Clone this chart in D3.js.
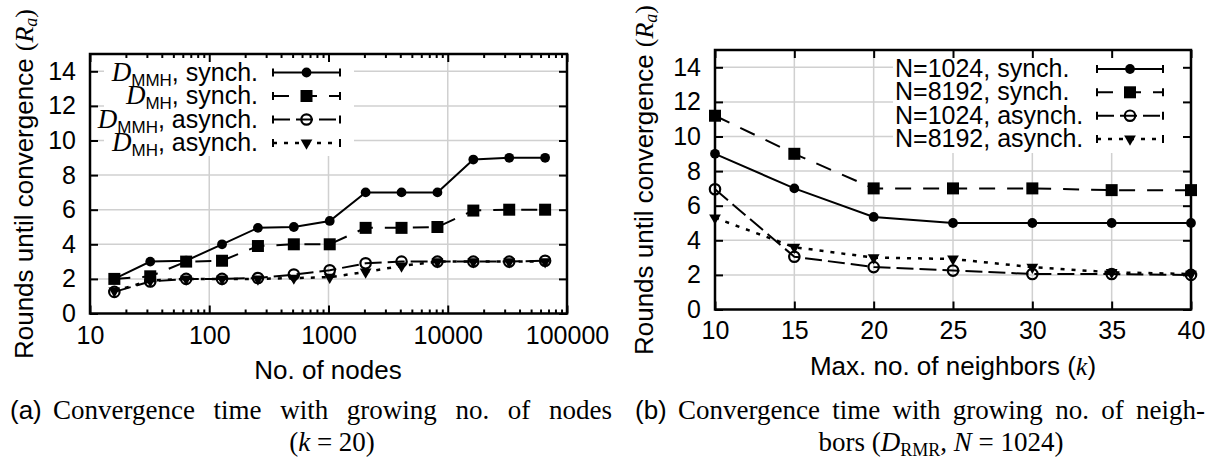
<!DOCTYPE html>
<html>
<head>
<meta charset="utf-8">
<script src="https://cdn.jsdelivr.net/npm/d3@7"></script>
<style>
	body { margin: 0; background: #fff; }
	svg { display: block; }
</style>
</head>
<body>
<script>
// ---- (a) rounds until convergence vs. no. of nodes (k = 20)
const nodes = [16, 32, 64, 128, 256, 512, 1024, 2048, 4096, 8192, 16384, 32768, 65536];
const mmhSynch = [2.0, 3.0, 3.05, 4.0, 4.95, 5.0, 5.35, 7.0, 7.0, 7.0, 8.9, 9.0, 9.0];
const mhSynch = [2.0, 2.15, 3.0, 3.05, 3.9, 4.0, 4.0, 4.95, 4.95, 5.0, 5.95, 6.0, 6.0];
const mmhAsynch = [1.25, 1.85, 2.0, 2.0, 2.05, 2.25, 2.5, 2.9, 3.0, 3.0, 3.0, 3.0, 3.05];
const mhAsynch = [1.3, 1.9, 2.0, 2.0, 2.0, 2.05, 2.1, 2.4, 2.75, 3.0, 3.0, 3.0, 3.0];
const legendSubA = ['MMH', 'MH', 'MMH', 'MH'];
const legendModeA = ['synch.', 'synch.', 'asynch.', 'asynch.'];
const xTicksA = [10, 100, 1000, 10000, 100000];

// ---- (b) rounds until convergence vs. max. no. of neighbors
const neighbors = [10, 15, 20, 25, 30, 35, 40];
const n1024Synch = [9.0, 7.0, 5.35, 5.0, 5.0, 5.0, 5.0];
const n8192Synch = [11.2, 9.0, 7.0, 7.0, 7.0, 6.9, 6.9];
const n1024Asynch = [6.95, 3.05, 2.45, 2.25, 2.05, 2.05, 2.0];
const n8192Asynch = [5.3, 3.6, 3.0, 2.92, 2.45, 2.15, 2.05];
const legendB = ['N=1024, synch.', 'N=8192, synch.', 'N=1024, asynch.', 'N=8192, asynch.'];
const xTicksB = [10, 15, 20, 25, 30, 35, 40];

const yTicks = [0, 2, 4, 6, 8, 10, 12, 14];

const SANS = '"Liberation Sans", Arial, sans-serif';
const SERIF = '"Liberation Serif", "DejaVu Serif", serif';

// line style per series (marker + dash pattern), same in both panels
const styles = [
	{ marker: 'circle', dash: null },
	{ marker: 'square', dash: '16,12' },
	{ marker: 'open', dash: '17,6' },
	{ marker: 'tri', dash: '4,7' },
];

const svg = d3.select('body').append('svg').attr('width', 1212).attr('height', 459);

function drawMarker(g, type, cx, cy) {
	const sym = d3.symbol();
	const p = g.append('path').attr('transform', `translate(${cx},${cy})` + (type === 'tri' ? ' rotate(180)' : ''));
	if (type === 'circle') p.attr('d', sym.type(d3.symbolCircle).size(75)()).attr('fill', '#000');
	if (type === 'square') p.attr('d', sym.type(d3.symbolSquare).size(144)()).attr('fill', '#000');
	if (type === 'open') p.attr('d', sym.type(d3.symbolCircle).size(85)()).attr('fill', 'none').attr('stroke', '#000').attr('stroke-width', 2.2);
	if (type === 'tri') p.attr('d', sym.type(d3.symbolTriangle).size(60)()).attr('fill', '#000');
}

function drawPanel(cfg) {
	const g = svg.append('g');
	const x = cfg.x, y = cfg.y;
	const [xl, xr] = x.range();
	const [yb, yt] = y.range();

	// grid
	g.append('g').selectAll('line').data(yTicks.filter(d => d > 0)).join('line')
		.attr('x1', xl).attr('x2', xr).attr('y1', d => y(d)).attr('y2', d => y(d))
		.attr('stroke', '#d0d0d0').attr('stroke-width', 1.5);
	g.append('g').selectAll('line').data(cfg.xTicks.slice(1, -1)).join('line')
		.attr('x1', d => x(d)).attr('x2', d => x(d)).attr('y1', yb).attr('y2', yt)
		.attr('stroke', '#d0d0d0').attr('stroke-width', 1.5);

	// opaque key box
	g.append('rect')
		.attr('x', cfg.keyBox[0]).attr('y', yt + 1)
		.attr('width', cfg.keyBox[1] - cfg.keyBox[0]).attr('height', cfg.keyBox[2] - yt)
		.attr('fill', '#fff');

	// axes (inward ticks, mirrored on top and right)
	g.append('g').attr('transform', `translate(0,${yb})`)
		.call(d3.axisBottom(x).tickValues(cfg.xTicks).tickSize(-8).tickPadding(cfg.xPad).tickFormat(cfg.xFormat));
	g.append('g').attr('transform', `translate(0,${yt})`)
		.call(d3.axisTop(x).tickValues(cfg.xTicks).tickSize(-8).tickFormat(''));
	if (cfg.xMinor) {
		g.append('g').attr('transform', `translate(0,${yb})`)
			.call(d3.axisBottom(x).tickValues(cfg.xMinor).tickSize(-4).tickFormat(''));
		g.append('g').attr('transform', `translate(0,${yt})`)
			.call(d3.axisTop(x).tickValues(cfg.xMinor).tickSize(-4).tickFormat(''));
	}
	g.append('g').attr('transform', `translate(${xl},0)`)
		.call(d3.axisLeft(y).tickValues(yTicks).tickSize(-8).tickPadding(14));
	g.append('g').attr('transform', `translate(${xr},0)`)
		.call(d3.axisRight(y).tickValues(yTicks).tickSize(-8).tickFormat(''));

	g.selectAll('.domain').remove();
	g.selectAll('.tick line').attr('stroke', '#000').attr('stroke-width', 2);
	g.selectAll('.tick text').attr('font-family', SANS).attr('font-size', 25).attr('fill', '#000');

	g.append('rect')
		.attr('x', xl).attr('y', yt).attr('width', xr - xl).attr('height', yb - yt)
		.attr('fill', 'none').attr('stroke', '#000').attr('stroke-width', 2.5);

	// series
	const line = d3.line().x(d => x(d[0])).y(d => y(d[1]));
	cfg.series.forEach((vals, i) => {
		const pts = cfg.xs.map((v, j) => [v, vals[j]]);
		g.append('path')
			.attr('d', line(pts))
			.attr('fill', 'none')
			.attr('stroke', '#000')
			.attr('stroke-width', styles[i].dash === '4,7' ? 2.5 : 2)
			.attr('stroke-dasharray', styles[i].dash);
		pts.forEach(p => drawMarker(g, styles[i].marker, x(p[0]), y(p[1])));
	});

	// key samples (with error bar end caps, as gnuplot draws them)
	const kx0 = cfg.keySample[0], kx1 = cfg.keySample[1];
	cfg.keyRows.forEach((ry, i) => {
		g.append('line').attr('x1', kx0).attr('x2', kx1).attr('y1', ry).attr('y2', ry)
			.attr('stroke', '#000').attr('stroke-width', styles[i].dash === '4,7' ? 2.5 : 2)
			.attr('stroke-dasharray', styles[i].dash);
		[kx0, kx1].forEach(cx => g.append('line')
			.attr('x1', cx).attr('x2', cx).attr('y1', ry - 4).attr('y2', ry + 4)
			.attr('stroke', '#000').attr('stroke-width', 2));
		drawMarker(g, styles[i].marker, (kx0 + kx1) / 2, ry);
	});

	return g;
}

// ---------- panel (a)
const xA = d3.scaleLog().domain([10, 100000]).range([90, 567]);
const yA = d3.scaleLinear().domain([0, 15]).range([313.5, 54]);
const minorA = [];
for (let dec = 10; dec < 100000; dec *= 10) for (let m = 2; m <= 9; m++) minorA.push(dec * m);

const rowsA = [72.5, 96, 119.5, 143];
const gA = drawPanel({
	x: xA, y: yA, xs: nodes,
	series: [mmhSynch, mhSynch, mmhAsynch, mhAsynch],
	xTicks: xTicksA, xMinor: minorA, xFormat: d3.format('d'), xPad: 13,
	keyBox: [104, 354, 155], keySample: [273, 340], keyRows: rowsA,
});
rowsA.forEach((ry, i) => {
	const t = gA.append('text').attr('x', 258).attr('y', ry + 8).attr('text-anchor', 'end')
		.attr('font-family', SANS).attr('font-size', 25);
	t.append('tspan').attr('font-family', SERIF).attr('font-style', 'italic').attr('font-size', 27).text('D');
	t.append('tspan').attr('font-size', 17).attr('baseline-shift', '-5').text(legendSubA[i]);
	t.append('tspan').text(', ' + legendModeA[i]);
});

// ---------- panel (b)
const xB = d3.scaleLinear().domain([10, 40]).range([715, 1191]);
const yB = d3.scaleLinear().domain([0, 15]).range([309.5, 50]);

const rowsB = [69, 92.3, 115.7, 139];
const gB = drawPanel({
	x: xB, y: yB, xs: neighbors,
	series: [n1024Synch, n8192Synch, n1024Asynch, n8192Asynch],
	xTicks: xTicksB, xMinor: null, xFormat: d3.format('d'), xPad: 12,
	keyBox: [893, 1190, 152], keySample: [1097, 1163], keyRows: rowsB,
});
rowsB.forEach((ry, i) => {
	gB.append('text').attr('x', 895).attr('y', ry + 8)
		.attr('font-family', SANS).attr('font-size', 25).text(legendB[i]);
});

// ---------- axis titles
function yTitle(cx, cy) {
	const t = svg.append('text').attr('transform', `translate(${cx},${cy}) rotate(-90)`)
		.attr('text-anchor', 'middle').attr('font-family', SANS).attr('font-size', 26);
	t.append('tspan').text('Rounds until convergence ');
	t.append('tspan').attr('font-family', SERIF).text('(');
	t.append('tspan').attr('font-family', SERIF).attr('font-style', 'italic').text('R');
	t.append('tspan').attr('font-family', SERIF).attr('font-style', 'italic').attr('font-size', 18).attr('baseline-shift', '-4').text('a');
	t.append('tspan').attr('font-family', SERIF).text(')');
}
yTitle(33, 184);
yTitle(653, 180);

svg.append('text').attr('x', 328).attr('y', 379).attr('text-anchor', 'middle')
	.attr('font-family', SANS).attr('font-size', 26).text('No. of nodes');
const xtB = svg.append('text').attr('x', 953).attr('y', 375).attr('text-anchor', 'middle')
	.attr('font-family', SANS).attr('font-size', 26);
xtB.append('tspan').text('Max. no. of neighbors (');
xtB.append('tspan').attr('font-family', SERIF).attr('font-style', 'italic').text('k');
xtB.append('tspan').text(')');

// ---------- captions
function caption(label, lx, tx, tEnd, words) {
	svg.append('text').attr('x', lx).attr('y', 419).attr('font-family', SANS).attr('font-size', 26).text(label);
	const t = svg.append('text').attr('x', tx).attr('y', 419).attr('font-family', SERIF).attr('font-size', 27).text(words);
	const w = t.node().getComputedTextLength();
	const gaps = words.split(' ').length - 1;
	t.attr('word-spacing', Math.max(0, (tEnd - tx - w) / gaps));
}
caption('(a)', 10, 53, 612, 'Convergence time with growing no. of nodes');
caption('(b)', 635, 678, 1205, 'Convergence time with growing no. of neigh-');

const c2a = svg.append('text').attr('x', 332).attr('y', 451).attr('text-anchor', 'middle')
	.attr('font-family', SERIF).attr('font-size', 27);
c2a.append('tspan').text('(');
c2a.append('tspan').attr('font-style', 'italic').text('k');
c2a.append('tspan').text(' = 20)');

const c2b = svg.append('text').attr('x', 941).attr('y', 451).attr('text-anchor', 'middle')
	.attr('font-family', SERIF).attr('font-size', 27);
c2b.append('tspan').text('bors (');
c2b.append('tspan').attr('font-style', 'italic').text('D');
c2b.append('tspan').attr('font-size', 18).attr('baseline-shift', '-5').text('RMR');
c2b.append('tspan').text(', ');
c2b.append('tspan').attr('font-style', 'italic').text('N');
c2b.append('tspan').text(' = 1024)');
</script>
</body>
</html>
